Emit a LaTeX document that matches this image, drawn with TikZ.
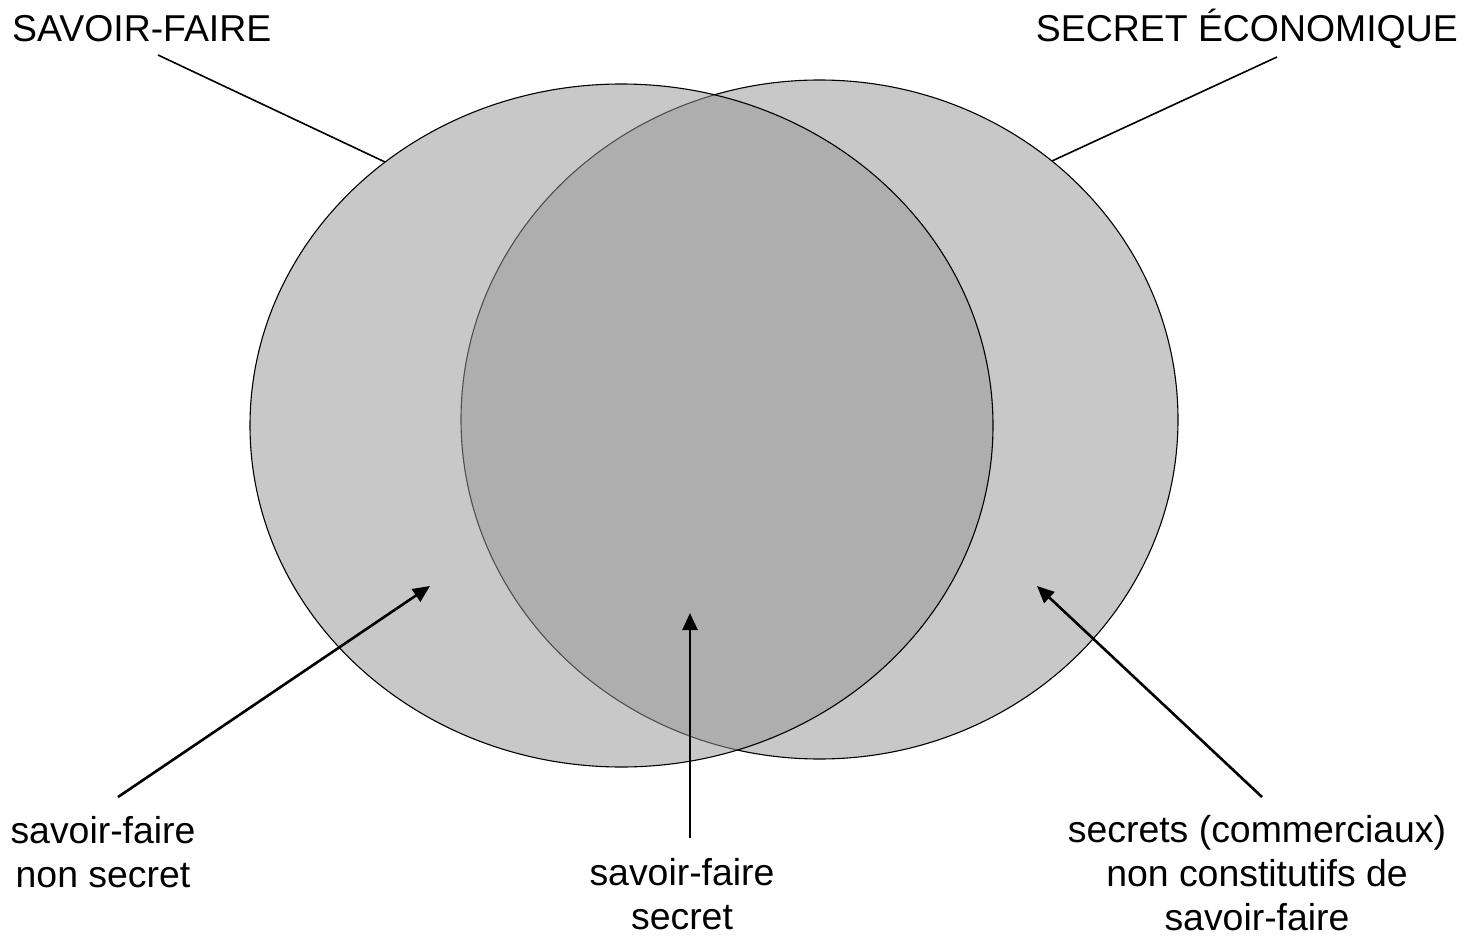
\documentclass[tikz,border=0pt]{standalone}
\usepackage{fontspec}
\setmainfont{Liberation Sans}
\usetikzlibrary{arrows.meta}
\definecolor{rfill}{RGB}{200,200,200}
\definecolor{lfill}{RGB}{151,151,151}
\begin{document}
\begin{tikzpicture}[x=1pt,y=-1pt,
  lbl/.style={font=\fontsize{37.4}{44}\selectfont, inner sep=0pt, align=center},
  leader/.style={line width=1.6pt},
  pointer/.style={line width=2.6pt, -{Triangle[length=17pt,width=15pt]}},
  venn/.style={line width=1.1pt, draw=black}
  ]
\useasboundingbox (0,0) rectangle (1470,936);
% ellipses
\path[venn, fill=rfill] (819.5,419.5) ellipse [x radius=358.5, y radius=339.5];
\path[venn, fill=lfill, fill opacity=0.527] (621.5,425.5) ellipse [x radius=371.5, y radius=341.5];
% titles
\node[lbl, anchor=base west] (sf) at (12,42) {SAVOIR-FAIRE};
\node[lbl, anchor=base east] (se) at (1458,42) {SECRET ÉCONOMIQUE};
\coordinate (sfa) at (158,55);
\coordinate (sfb) at (385,162);
\coordinate (sea) at (1277,57);
\coordinate (seb) at (1052,161);
\draw[leader] (sfa) -- (sfb);
\draw[leader] (sea) -- (seb);
% bottom labels (base anchor = last line's baseline)
\node[lbl, anchor=base] (nsec) at (103,887) {savoir-faire\\non secret};
\node[lbl, anchor=base] (sec) at (682,929) {savoir-faire\\secret};
\node[lbl, anchor=base] (com) at (1257,930) {secrets (commerciaux)\\non constitutifs de\\savoir-faire};
\coordinate (a1s) at (118,797);
\coordinate (a1e) at (430,586);
\coordinate (a2s) at (690,838);
\coordinate (a2e) at (690,613);
\coordinate (a3s) at (1262,797);
\coordinate (a3e) at (1037,586);
\draw[pointer] (a1s) -- (a1e);
\draw[pointer] (a2s) -- (a2e);
\draw[pointer] (a3s) -- (a3e);
\end{tikzpicture}
\end{document}
